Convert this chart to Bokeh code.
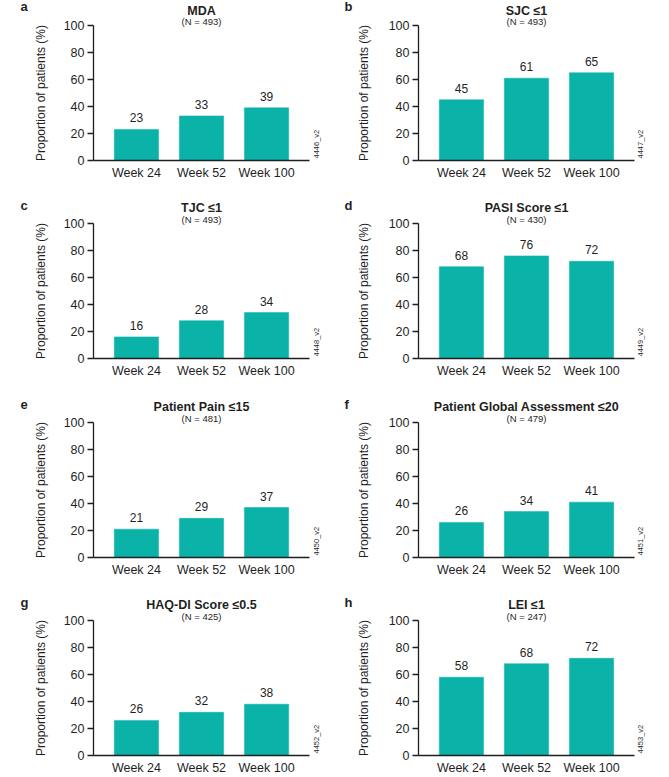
import math
from bokeh.plotting import figure
from bokeh.models import Range1d, FixedTicker, Label, LabelSet, ColumnDataSource
from bokeh.layouts import column, row
from bokeh.embed import file_html
from bokeh.resources import INLINE
from bokeh.core.properties import value

# ---------------- data ----------------
weeks = ["Week 24", "Week 52", "Week 100"]
panel_letters = ["a", "b", "c", "d", "e", "f", "g", "h"]
titles = ["MDA", "SJC ≤1", "TJC ≤1", "PASI Score ≤1",
          "Patient Pain ≤15", "Patient Global Assessment ≤20",
          "HAQ-DI Score ≤0.5", "LEI ≤1"]
n_values = [493, 493, 493, 430, 481, 479, 425, 247]
codes = ["4446_v2", "4447_v2", "4448_v2", "4449_v2",
         "4450_v2", "4451_v2", "4452_v2", "4453_v2"]
mda = [23, 33, 39]
sjc = [45, 61, 65]
tjc = [16, 28, 34]
pasi = [68, 76, 72]
pain = [21, 29, 37]
pga = [26, 34, 41]
haq = [26, 32, 38]
lei = [58, 68, 72]
series = [mda, sjc, tjc, pasi, pain, pga, haq, lei]
y_ticks = [0, 20, 40, 60, 80, 100]
y_label = "Proportion of patients (%)"

# ---------------- style / layout (pixels) ----------------
TEAL = "#0BB2A8"
INK = "#1f1f1f"
FONT = "Liberation Sans"
row_heights = [197, 200, 198, 182]
row_top100 = [25, 26, 25, 25]        # px from figure top to the 100 % line
col_widths = [340, 329]
col_axis = [93, 78]                  # px from figure left to the y axis
PLOT_H = 135.0                       # px for 0..100 %
PAD = 0.66                           # category padding (in category units)
PLOT_W = 216.0                       # px of the x axis
title_off = [14.5, 16, 16, 16]
n_off = [4.5, 4.5, 4.5, 4.5]
letter_off = [19, 18.5, 18.5, 18.5]
letter_dx = [-181, -182]
code_dx = [115, 114]
ylab_dx = [-53, -55]


def make_panel(i):
    r, c = divmod(i, 2)
    n = len(weeks)
    sx = PLOT_W / (n - 1 + 2 * PAD)
    sy = PLOT_H / 100.0
    x0 = -PAD - col_axis[c] / sx
    x1 = x0 + col_widths[c] / sx
    y1 = 100 + row_top100[r] / sy
    y0 = y1 - row_heights[r] / sy

    p = figure(x_range=Range1d(x0, x1), y_range=Range1d(y0, y1),
               width=col_widths[c], height=row_heights[r],
               min_border_left=0, min_border_right=0,
               min_border_top=0, min_border_bottom=0,
               output_backend="svg", toolbar_location=None, title=None)
    p.outline_line_color = None
    p.xgrid.grid_line_color = None
    p.ygrid.grid_line_color = None
    p.background_fill_color = "white"
    p.border_fill_color = "white"

    idx = list(range(n))
    src = ColumnDataSource(dict(x=idx, val=series[i],
                                lab=[str(v) for v in series[i]]))
    p.vbar(x="x", top="val", width=0.68, source=src,
           fill_color=TEAL, line_color=TEAL, line_width=0.5)
    p.add_layout(LabelSet(x="x", y="val", text="lab", source=src,
                          y_offset=7, text_align="center", text_baseline="alphabetic",
                          text_font=value(FONT), text_font_size="12px",
                          text_color=INK))

    ya = p.yaxis[0]
    ya.fixed_location = -PAD
    ya.bounds = (0, 100)
    ya.ticker = FixedTicker(ticks=y_ticks)
    ya.minor_tick_line_color = None
    ya.major_tick_in = 0
    ya.major_tick_out = 6
    ya.major_tick_line_width = 1.3
    ya.major_tick_line_color = INK
    ya.axis_line_color = INK
    ya.axis_line_width = 1.3
    ya.major_label_standoff = 3
    ya.major_label_text_font = FONT
    ya.major_label_text_font_size = "12.5px"
    ya.major_label_text_color = INK

    xa = p.xaxis[0]
    xa.fixed_location = 0
    xa.bounds = (-PAD, n - 1 + PAD)
    xa.ticker = FixedTicker(ticks=idx)
    xa.major_label_overrides = {k: w for k, w in zip(idx, weeks)}
    xa.major_tick_in = 0
    xa.major_tick_out = 0
    xa.major_tick_line_color = None
    xa.minor_tick_line_color = None
    xa.axis_line_color = INK
    xa.axis_line_width = 1.3
    xa.major_label_standoff = 5
    xa.major_label_text_font = FONT
    xa.major_label_text_font_size = "12.5px"
    xa.major_label_text_color = INK

    mid = (n - 1) / 2.0
    p.add_layout(Label(x=-PAD, y=50, x_offset=ylab_dx[c], text=y_label,
                       angle=math.pi / 2, text_align="center", text_baseline="middle",
                       text_font=FONT, text_font_size="12px", text_color=INK))
    p.add_layout(Label(x=mid, y=100, y_offset=title_off[r], text=titles[i],
                       text_align="center", text_baseline="alphabetic",
                       text_font=FONT, text_font_size="12.5px",
                       text_font_style="bold", text_color=INK))
    p.add_layout(Label(x=mid, y=100, y_offset=n_off[r], text=f"(N = {n_values[i]})",
                       text_align="center", text_baseline="alphabetic",
                       text_font=FONT, text_font_size="9.5px", text_color=INK))
    p.add_layout(Label(x=mid, y=100, x_offset=letter_dx[c], y_offset=letter_off[r],
                       text=panel_letters[i], text_align="left",
                       text_baseline="alphabetic", text_font=FONT,
                       text_font_size="13px", text_font_style="bold",
                       text_color=INK))
    p.add_layout(Label(x=mid, y=0, x_offset=code_dx[c], y_offset=2,
                       text=codes[i], angle=math.pi / 2, text_align="left",
                       text_baseline="middle", text_font=FONT,
                       text_font_size="7.5px", text_color=INK))
    return p


panels = [make_panel(i) for i in range(8)]
layout = column(*[row(panels[2 * k], panels[2 * k + 1]) for k in range(4)])

open("out.html", "w").write(file_html(layout, INLINE))
